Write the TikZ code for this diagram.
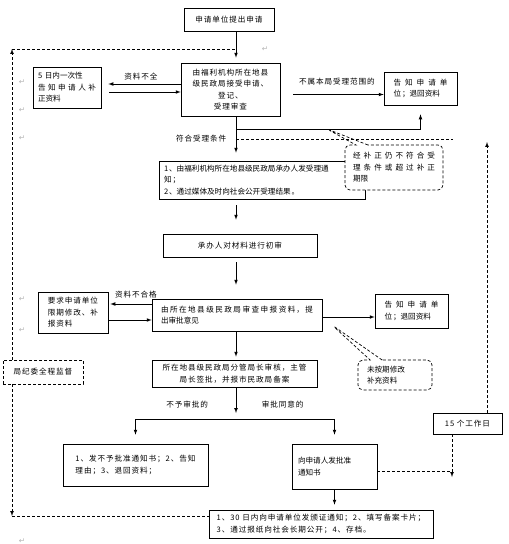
\documentclass[tikz,border=0pt]{standalone}
\usepackage{fontspec}
\setmainfont[LetterSpace=12]{Noto Sans CJK SC}
\newfontfamily\symfont{DejaVu Sans}
\XeTeXlinebreaklocale "zh"
\XeTeXlinebreakskip=0pt plus 2pt
\usetikzlibrary{calc, shapes.callouts}

\begin{document}
\begin{tikzpicture}[x=1pt, y=-1pt, >=latex, line width=0.7pt,
  every node/.style={font=\fontsize{7.6}{11.5}\selectfont},
  box/.style={draw, fill=white, inner xsep=4pt, inner ysep=2pt},
  dbox/.style={draw, dash pattern=on 3pt off 2pt, inner sep=2pt},
  note/.style={rectangle callout, draw, fill=white, dash pattern=on 3pt off 2pt,
    rounded corners=5pt, callout pointer width=12pt, inner sep=3pt},
  dline/.style={dash pattern=on 3pt off 2pt},
  retmark/.style={text=gray!60, font=\symfont\fontsize{7.5}{7.5}\selectfont, inner sep=0pt}]
  \useasboundingbox (0,0) rectangle (509,544);

  \coordinate (spine) at (236,0);
  \coordinate (fork) at (236,129);
  \coordinate (pass) at (236,139);
  \coordinate (passend) at (453,139);
  \coordinate (split) at (236,419);
  \coordinate (join) at (452,471);
  \coordinate (rise) at (487,142);
  \coordinate (topleft) at (12,49);
  \coordinate (botleft) at (12,516);

  \node[box, minimum width=90, minimum height=23] (apply) at (229,19.5) {申请单位提出申请};
  \node[box, minimum width=68, minimum height=41, text width=58pt, align=justify] (incomplete) at (67,87.5)
    {5 日内一次性\newline 告知申请人补\linebreak 正资料};
  \node[box, minimum width=99, minimum height=53, align=center] (accept) at (230.5,89.5)
    {由福利机构所在地县\\级民政局接受申请、\\登记、\\受理审查};
  \node[box, minimum width=73, minimum height=33, text width=54pt, align=justify] (reject1) at (420.5,88.5)
    {告知申请单\linebreak 位；退回资料};
  \node[box, minimum width=206, minimum height=38, text width=196pt, align=left] (notice) at (262,180)
    {1、由福利机构所在地县级民政局承办人发受理通\\知；\\2、通过媒体及时向社会公开受理结果。};
  \node[note, minimum width=98, minimum height=45, text width=82pt, align=justify,
    callout absolute pointer={(327,129)}] (late) at (394,167.5)
    {经补正仍不符合受\linebreak 理条件或超过补正\linebreak 期限};
  \node[box, minimum width=154, minimum height=23] (review) at (240,245.5) {承办人对材料进行初审};
  \node[box, minimum width=170, minimum height=32, text width=152pt, align=justify] (examine) at (237,315)
    {由所在地县级民政局审查申报资料，提\linebreak 出审批意见};
  \node[box, minimum width=70, minimum height=41, align=left] (revise) at (73,312.5)
    {要求申请单位\\限期修改、补\\报资料};
  \node[box, minimum width=73, minimum height=34, text width=54pt, align=justify] (reject2) at (411.5,311)
    {告知申请单\linebreak 位；退回资料};
  \node[note, minimum width=74, minimum height=30, text width=56pt, align=left,
    callout absolute pointer={(332,325)}] (overdue) at (395,375)
    {未按期修改\\补充资料};
  \node[box, minimum width=165, minimum height=27, align=center] (approve) at (234.5,373.5)
    {所在地县级民政局分管局长审核，主管\\局长签批，并报市民政局备案};
  \node[box, minimum width=145, minimum height=42, align=left] (deny) at (135.5,465)
    {1、发不予批准通知书；2、告知\\理由；3、退回资料；};
  \node[box, minimum width=85, minimum height=45, text width=73pt, align=left] (grant) at (334.5,466.5)
    {向申请人发批准\\通知书};
  \node[box, minimum width=69, minimum height=21] (days) at (467.5,423.5) {15 个工作日};
  \node[box, minimum width=224, minimum height=28, align=left] (finish) at (321,524)
    {1、30 日内向申请单位发颁证通知；2、填写备案卡片；\\3、通过报纸向社会长期公开；4、存档。};
  \node[dbox, minimum width=80, minimum height=24] (supervise) at (43,372) {局纪委全程监督};

  % main line
  \draw[->, shorten >=5pt] (apply.south -| spine) -- (accept.north -| spine);
  \draw[->, shorten >=8pt] (accept.south -| spine) -- (notice.north -| spine)
    node[midway, left=6pt] {符合受理条件};
  \draw[->, shorten <=6pt, shorten >=14pt] (notice.south -| spine) -- (review.north -| spine);
  \draw[->, shorten <=5pt, shorten >=14pt] (review.south -| spine) -- (examine.north -| spine);
  \draw[->, shorten >=3pt] (examine.south -| spine) -- (approve.north -| spine);
  \draw[->] (approve.south -| spine) -- ([yshift=6pt]split);

  % acceptance
  \draw[->, shorten >=7pt] ([yshift=5.5pt]accept.west) -- ([yshift=5.5pt]accept.west -| incomplete.east)
    node[midway, above] {资料不全};
  \draw[->, shorten <=8pt] ([yshift=-4.5pt]incomplete.east) -- ([yshift=-4.5pt]incomplete.east -| accept.west);
  \draw[->, shorten <=13pt] ([yshift=-5pt]accept.east) -- ([yshift=-5pt]accept.east -| reject1.west)
    node[midway, above=6pt, xshift=5pt] {不属本局受理范围的};
  \draw[->, shorten >=9pt] (fork) -| (reject1.south);
  \draw[dline] (pass) -- (passend);

  % examination
  \draw[->, shorten >=2pt] ([yshift=11pt]examine.west) -- ([yshift=11pt]examine.west -| revise.east)
    node[midway, above=2pt, xshift=6pt] {资料不合格};
  \draw[->] ([yshift=-5pt]examine.west -| revise.east) -- ([yshift=-5pt]examine.west);
  \draw[->] ([yshift=-2pt]examine.east) -- ([yshift=-2pt]examine.east -| reject2.west);

  % decision
  \draw (split -| deny.north) -- (split -| grant.north)
    node[pos=0.26, above=7pt] {不予审批的}
    node[pos=0.74, above=7pt] {审批同意的};
  \draw[->, shorten >=9pt] (split -| deny.north) -- (deny.north);
  \draw[->, shorten >=9pt] (split -| grant.north) -- (grant.north);
  \draw[->, shorten >=5pt] (grant.south) -- (grant.south |- finish.north);

  % time limit
  \draw[dline] ([yshift=-4.5pt]grant.east) -- (join);
  \draw[dline, ->] (days.south -| join) -- ([yshift=-6pt]join);
  \draw[dline, ->] (days.north -| rise) -- (rise);

  % supervision
  \draw[dline, ->] (supervise.north -| topleft) -- (topleft);
  \draw[dline] (topleft) -- (topleft -| spine);
  \draw[dline, ->] (supervise.south -| botleft) -- (botleft);
  \draw[dline] (botleft) -- (botleft -| finish.west);

  \foreach \y in {82,110,138,299,330,541}
    \node[retmark] at (22,\y) {↵};
  \node[retmark] at (265,49) {↵};
\end{tikzpicture}
\end{document}
